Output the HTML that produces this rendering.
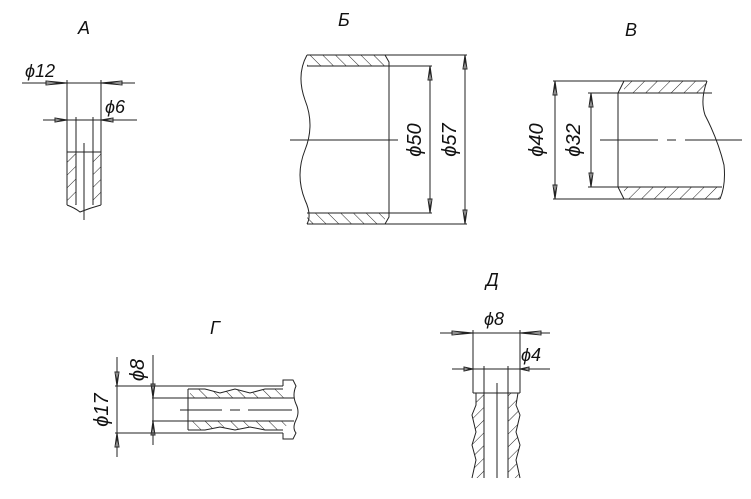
<!DOCTYPE html><html><head><style>html,body{margin:0;background:#fff}svg{display:block}text{font-family:"Liberation Sans","DejaVu Sans",sans-serif;font-style:italic;fill:#111}</style></head><body>
<svg width="751" height="499" viewBox="0 0 751 499" xmlns="http://www.w3.org/2000/svg" stroke="#222" stroke-width="1" fill="none">
<defs>
<pattern id="h" patternUnits="userSpaceOnUse" width="9" height="9" patternTransform="rotate(45)"><line x1="0" y1="0" x2="0" y2="9" stroke="#222" stroke-width="1"/></pattern>
<pattern id="h2" patternUnits="userSpaceOnUse" width="9" height="9" patternTransform="rotate(-45)"><line x1="0" y1="0" x2="0" y2="9" stroke="#222" stroke-width="1"/></pattern>
</defs>
<!-- A -->
<text x="78" y="34" font-size="18" stroke="none">A</text>
<text x="25" y="77" font-size="18" stroke="none">ϕ12</text>
<text x="105" y="113" font-size="18" stroke="none">ϕ6</text>
<line x1="22" y1="83" x2="135" y2="83"/>
<line x1="43" y1="120" x2="137" y2="120"/>
<path d="M46 81 L67 83 L46 85Z M122 81 L101 83 L122 85Z M55 118 L67 120 L55 122Z M113 118 L101 120 L113 122Z"/>
<line x1="67" y1="80" x2="67" y2="205"/><line x1="101" y1="80" x2="101" y2="205"/>
<line x1="76" y1="117" x2="76" y2="205"/><line x1="93" y1="117" x2="93" y2="205"/>
<line x1="67" y1="152" x2="101" y2="152"/>
<rect x="67" y="152" width="9" height="53" fill="url(#h)" stroke="none"/>
<rect x="93" y="152" width="8" height="53" fill="url(#h)" stroke="none"/>
<path d="M67 205 Q75 208 80 212 Q90 208 101 205"/>
<line x1="84" y1="143" x2="84" y2="220"/>
<!-- B -->
<text x="338" y="26" font-size="18" stroke="none">Б</text>
<rect x="307" y="55" width="78" height="11" fill="url(#h2)" stroke="none"/>
<rect x="307" y="213" width="78" height="11" fill="url(#h2)" stroke="none"/>
<line x1="307" y1="55" x2="467" y2="55"/><line x1="307" y1="66" x2="432" y2="66"/>
<line x1="307" y1="213" x2="432" y2="213"/><line x1="307" y1="224" x2="467" y2="224"/>
<path d="M385 55 L389 62 L389 217 L385 224"/>
<path d="M307 55 Q296 75 305 100 Q315 125 305 150 Q295 175 305 200 Q312 215 307 224"/>
<line x1="290" y1="140" x2="398" y2="140"/>
<line x1="430" y1="66" x2="430" y2="213"/><line x1="465" y1="55" x2="465" y2="224"/>
<path d="M428 80 L430 66 L432 80Z M428 199 L430 213 L432 199Z M463 69 L465 55 L467 69Z M463 210 L465 224 L467 210Z"/>
<text transform="translate(421,140) rotate(-90)" text-anchor="middle" font-size="20" stroke="none">ϕ50</text>
<text transform="translate(456,140) rotate(-90)" text-anchor="middle" font-size="20" stroke="none">ϕ57</text>
<!-- V -->
<text x="625" y="36" font-size="18" stroke="none">В</text>
<rect x="624" y="81" width="83" height="12" fill="url(#h)" stroke="none"/>
<rect x="624" y="187" width="96" height="12" fill="url(#h)" stroke="none"/>
<line x1="553" y1="81" x2="707" y2="81"/><line x1="588" y1="93" x2="712" y2="93"/>
<line x1="588" y1="187" x2="722" y2="187"/><line x1="553" y1="199" x2="720" y2="199"/>
<path d="M624 81 L618 93 L618 187 L624 199"/>
<path d="M707 81 Q700 100 705 115 Q718 140 724 165 Q726 185 720 199"/>
<path d="M600 140 H658 M667 140 H676 M685 140 H742"/>
<line x1="555" y1="81" x2="555" y2="199"/><line x1="591" y1="93" x2="591" y2="187"/>
<path d="M553 95 L555 81 L557 95Z M553 185 L555 199 L557 185Z M589 107 L591 93 L593 107Z M589 173 L591 187 L593 173Z"/>
<text transform="translate(543,140) rotate(-90)" text-anchor="middle" font-size="20" stroke="none">ϕ40</text>
<text transform="translate(580,140) rotate(-90)" text-anchor="middle" font-size="20" stroke="none">ϕ32</text>
<!-- G -->
<text x="210" y="334" font-size="18" stroke="none">Г</text>
<polygon points="190,389 205,389 220,393 235,389 250,393 265,389 283,389 290,398 190,398" fill="url(#h2)" stroke="none"/>
<polygon points="190,421 290,421 283,430 265,430 250,427 235,430 220,427 205,430 190,430" fill="url(#h2)" stroke="none"/>
<line x1="115" y1="386" x2="283" y2="386"/><line x1="115" y1="433" x2="283" y2="433"/>
<path d="M188 389 L188 430"/>
<path d="M188 389 L205 389 L220 393 L235 389 L250 393 L265 389 L283 389"/>
<path d="M188 430 L205 430 L220 427 L235 430 L250 427 L265 430 L283 430"/>
<path d="M283 386 L283 380 L293 380 L296 386 Q292 395 296 404 Q300 412 296 420 Q292 428 296 433 L293 439 L283 439 L283 433"/>
<line x1="152" y1="398" x2="294" y2="398"/><line x1="152" y1="421" x2="294" y2="421"/>
<path d="M180 410 H222 M230 410 H240 M248 410 H292"/>
<line x1="117" y1="357" x2="117" y2="457"/><line x1="153" y1="355" x2="153" y2="445"/>
<path d="M115 372 L117 386 L119 372Z M115 447 L117 433 L119 447Z M151 384 L153 398 L155 384Z M151 435 L153 421 L155 435Z"/>
<text transform="translate(108,410) rotate(-90)" text-anchor="middle" font-size="20" stroke="none">ϕ17</text>
<text transform="translate(144,370) rotate(-90)" text-anchor="middle" font-size="20" stroke="none">ϕ8</text>
<!-- D -->
<text x="486" y="286" font-size="18" stroke="none">Д</text>
<text x="484" y="325" font-size="18" stroke="none">ϕ8</text>
<text x="521" y="361" font-size="18" stroke="none">ϕ4</text>
<line x1="440" y1="333" x2="550" y2="333"/><line x1="452" y1="369" x2="550" y2="369"/>
<path d="M452 331 L473 333 L452 335Z M541 331 L520 333 L541 335Z M464 367 L473 369 L464 371Z M529 367 L520 369 L529 371Z"/>
<line x1="473" y1="330" x2="473" y2="393"/><line x1="520" y1="330" x2="520" y2="393"/>
<line x1="484" y1="366" x2="484" y2="478"/><line x1="508" y1="366" x2="508" y2="478"/>
<line x1="473" y1="393" x2="520" y2="393"/>
<polygon points="476,393 484,393 484,478 472,478 476,460 472,445 476,432 472,415 476,405" fill="url(#h)" stroke="none"/>
<polygon points="508,393 518,393 516,405 520,415 516,432 520,445 516,460 520,478 508,478" fill="url(#h)" stroke="none"/>
<path d="M476 393 L476 405 L472 415 L476 432 L472 445 L476 460 L472 478"/>
<path d="M518 393 L516 405 L520 415 L516 432 L520 445 L516 460 L520 478"/>
<line x1="497" y1="383" x2="497" y2="478"/>
</svg></body></html>
